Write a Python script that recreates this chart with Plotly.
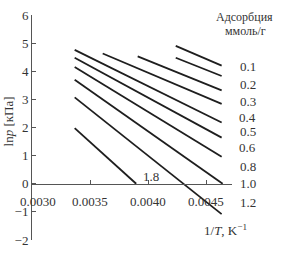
import plotly.graph_objects as go

# Adsorption levels (mmol/g) and endpoints of each isostere (1/T, ln p)
adsorption = ["0.1", "0.2", "0.3", "0.4", "0.5", "0.6", "0.8", "1.0", "1.2", "1.8"]
x_start = [0.004236, 0.004236, 0.003909, 0.003608, 0.003367, 0.003367, 0.003367, 0.003367, 0.003367, 0.003367]
x_end   = [0.004631, 0.004631, 0.004631, 0.004631, 0.004631, 0.004631, 0.004631, 0.004640, 0.004631, 0.003896]
y_start = [4.90, 4.48, 4.53, 4.63, 4.76, 4.48, 4.15, 3.70, 3.07, 1.98]
y_end   = [4.20, 3.83, 3.32, 2.84, 2.18, 1.64, 0.96, 0.00, -1.08, 0.00]

# right-hand legend labels (levels listed beside the plot) and their heights
legend_labels = ["0.1", "0.2", "0.3", "0.4", "0.5", "0.6", "0.8", "1.0", "1.2"]
legend_y = [4.18, 3.54, 2.94, 2.35, 1.86, 1.28, 0.62, 0.0, -0.66]

x_ticks = [0.0030, 0.0035, 0.0040, 0.0045]
x_ticktext = ["0.0030", "0.0035", "0.0040", "0.0045"]
y_ticks = [-2, -1, 0, 1, 2, 3, 4, 5, 6]
y_ticktext = ["−2", "−1", "0", "1", "2", "3", "4", "5", "6"]

FONT = "Liberation Serif"
TXT = "#333333"
AX = "#555555"

fig = go.Figure()
for i, lab in enumerate(adsorption):
    fig.add_trace(go.Scatter(
        x=[x_start[i], x_end[i]], y=[y_start[i], y_end[i]],
        mode="lines", line=dict(color="#1e1e1e", width=1.8),
        showlegend=False, hoverinfo="skip"))

fig.update_layout(
    width=284, height=256,
    margin=dict(l=32, r=52, t=8, b=8),
    paper_bgcolor="white", plot_bgcolor="white",
    font=dict(family=FONT, size=12, color=TXT),
    xaxis=dict(range=[0.0030, 0.00472], showgrid=False, zeroline=False,
               showline=True, linecolor=AX, linewidth=1,
               anchor="free", position=0.25,
               ticks="inside", ticklen=4, tickcolor=AX,
               tickvals=x_ticks, showticklabels=False),
    yaxis=dict(range=[-2, 6], showgrid=False, zeroline=False,
               showline=True, linecolor=AX, linewidth=1,
               ticks="inside", ticklen=4, tickcolor=AX,
               tickvals=y_ticks, ticktext=y_ticktext,
               tickfont=dict(family=FONT, size=13, color=TXT)),
)

ann = []
# x tick labels below the axis line at y = 0
x_label_shift = [6, 0, 0, 0]
for xv, txt, sh in zip(x_ticks, x_ticktext, x_label_shift):
    ann.append(dict(x=xv, y=0, xref="x", yref="y", text=txt, showarrow=False,
                    xanchor="center", yanchor="middle", xshift=sh, yshift=-18,
                    font=dict(family=FONT, size=13, color=TXT)))
for lab, yv in zip(legend_labels, legend_y):
    ann.append(dict(x=1.079, y=yv, xref="paper", yref="y", text=lab,
                    showarrow=False, xanchor="center", yanchor="middle",
                    font=dict(family=FONT, size=13, color=TXT)))
ann.append(dict(x=1.062, y=(248 - 10) / 240, xref="paper", yref="paper",
                text="Адсорбция", showarrow=False, xanchor="center", yanchor="middle",
                font=dict(family=FONT, size=12, color=TXT)))
ann.append(dict(x=1.066, y=(248 - 25) / 240, xref="paper", yref="paper",
                text="ммоль/г", showarrow=False, xanchor="center", yanchor="middle",
                font=dict(family=FONT, size=12, color=TXT)))
ann.append(dict(x=0.004027, y=0.27, xref="x", yref="y", text="1.8",
                showarrow=False, xanchor="center", yanchor="middle",
                font=dict(family=FONT, size=13, color=TXT)))
ann.append(dict(x=0.967, y=0.045, xref="paper", yref="paper",
                text="1/<i>T</i>, K<sup>−1</sup>", showarrow=False,
                xanchor="center", yanchor="middle",
                font=dict(family=FONT, size=13, color=TXT)))
ann.append(dict(x=-0.12, y=0.527, xref="paper", yref="paper",
                text="ln<i>p</i> [кПа]", showarrow=False, textangle=-90,
                xanchor="center", yanchor="middle",
                font=dict(family=FONT, size=13, color=TXT)))
fig.update_layout(annotations=ann)

fig.write_html("out.html")
